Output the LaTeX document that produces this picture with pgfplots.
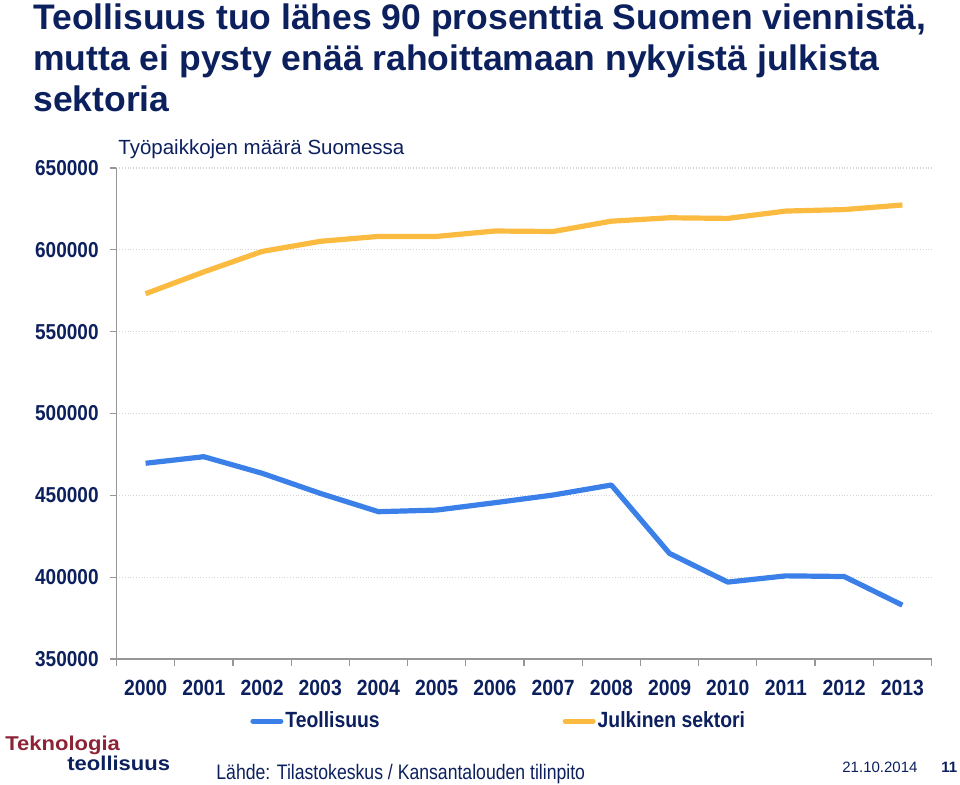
\documentclass[border=0pt]{standalone}
\usepackage{fontspec}
\setmainfont{Liberation Sans}
\newfontfamily\narrow[FakeStretch=0.88]{Liberation Sans}
\newfontfamily\srcfont[FakeStretch=0.84]{Liberation Sans}
\newfontfamily\logofont[FakeStretch=1.1]{Liberation Sans}
\usepackage{pgfplots}
\pgfplotsset{compat=1.18}
\definecolor{navy}{RGB}{12,32,94}
\definecolor{tblue}{RGB}{58,128,232}
\definecolor{torange}{RGB}{251,186,64}
\definecolor{logored}{RGB}{140,36,54}
\definecolor{axgray}{RGB}{150,150,150}
\definecolor{gridgray}{RGB}{212,212,212}

\pgfplotstableread{
x teol julk
0 469600 573200
1 473600 586500
2 463500 599000
3 451200 605200
4 440000 608200
5 441000 608200
6 445500 611500
7 450200 611200
8 456300 617500
9 414500 619600
10 397000 619200
11 400800 623700
12 400400 624600
13 382900 627400
}\datatable

\begin{document}
\begin{tikzpicture}
\useasboundingbox (0,0) rectangle (480pt,392pt);
\begin{axis}[
  at={(58.25pt,62.5pt)}, anchor=south west,
  scale only axis, width=407.5pt, height=245.5pt,
  axis lines*=left,
  axis line style={axgray, line width=0.6pt},
  xmin=-0.5, xmax=13.5, ymin=350000, ymax=650000,
  scaled y ticks=false,
  xtick={-0.5,0.5,...,13.5}, xticklabels={},
  extra x ticks={0,1,...,13},
  extra x tick labels={2000,2001,2002,2003,2004,2005,2006,2007,2008,2009,2010,2011,2012,2013},
  extra x tick style={major tick length=0pt, grid=none,
     xticklabel style={anchor=north, inner sep=0pt, yshift=-10.5pt}},
  ytick={350000,400000,450000,500000,550000,600000,650000},
  yticklabels={350000,400000,450000,500000,550000,600000,650000},
  tick align=outside, major tick length=3.25pt,
  tick style={axgray, line width=0.6pt},
  xticklabel style={font=\narrow\bfseries\fontsize{11pt}{13pt}\selectfont, text=navy},
  yticklabel style={font=\narrow\bfseries\fontsize{10.8pt}{13pt}\selectfont, text=navy, anchor=east, inner sep=0pt, xshift=-5.5pt},
  ymajorgrids,
  grid style={densely dotted, gridgray, line width=0.6pt},
  legend columns=2,
  legend cell align=left,
  legend style={at={(0.1638,-0.1263)}, anchor=west, draw=none, fill=none, inner sep=0pt,
     font=\narrow\bfseries\fontsize{11pt}{13pt}\selectfont, text=navy,
     nodes={inner sep=0pt},
     /tikz/every odd column/.append style={column sep=1pt},
     /tikz/every even column/.append style={column sep=91.5pt}},
  legend image code/.code={\draw[line width=2.5pt, line cap=round] (1.25pt,0pt) -- (15.25pt,0pt);},
]
\addplot[tblue, line width=2.6pt, line join=round] table[x=x, y=teol] {\datatable};
\addlegendentry{Teollisuus}
\addplot[torange, line width=2.6pt, line join=round] table[x=x, y=julk] {\datatable};
\addlegendentry{Julkinen sektori}
\end{axis}
\begin{scope}[every node/.style={inner sep=0pt, anchor=base west}]
\node[text=navy, font=\bfseries\fontsize{17.75pt}{20.5pt}\selectfont] at (16.5pt,377pt) {Teollisuus tuo lähes 90 prosenttia Suomen viennistä,};
\node[text=navy, font=\bfseries\fontsize{17.75pt}{20.5pt}\selectfont] at (16.5pt,356.5pt) {mutta ei pysty enää rahoittamaan nykyistä julkista};
\node[text=navy, font=\bfseries\fontsize{17.75pt}{20.5pt}\selectfont] at (16.5pt,336pt) {sektoria};
\node[text=navy, font=\fontsize{10.25pt}{12pt}\selectfont] at (59pt,315pt) {Työpaikkojen määrä Suomessa};
\node[text=logored, font=\logofont\bfseries\fontsize{10pt}{11pt}\selectfont] at (2.5pt,17pt) {Teknologia};
\node[text=navy, font=\logofont\bfseries\fontsize{10pt}{11pt}\selectfont] at (33.5pt,7pt) {teollisuus};
\node[text=navy, font=\srcfont\fontsize{10.5pt}{12pt}\selectfont] at (108pt,2.5pt) {Lähde: Tilastokeskus / Kansantalouden tilinpito};
\node[text=navy, font=\fontsize{7.5pt}{9pt}\selectfont] at (421pt,6pt) {21.10.2014};
\node[text=navy, font=\bfseries\fontsize{7.5pt}{9pt}\selectfont] at (470.5pt,6pt) {11};
\end{scope}
\end{tikzpicture}
\end{document}
